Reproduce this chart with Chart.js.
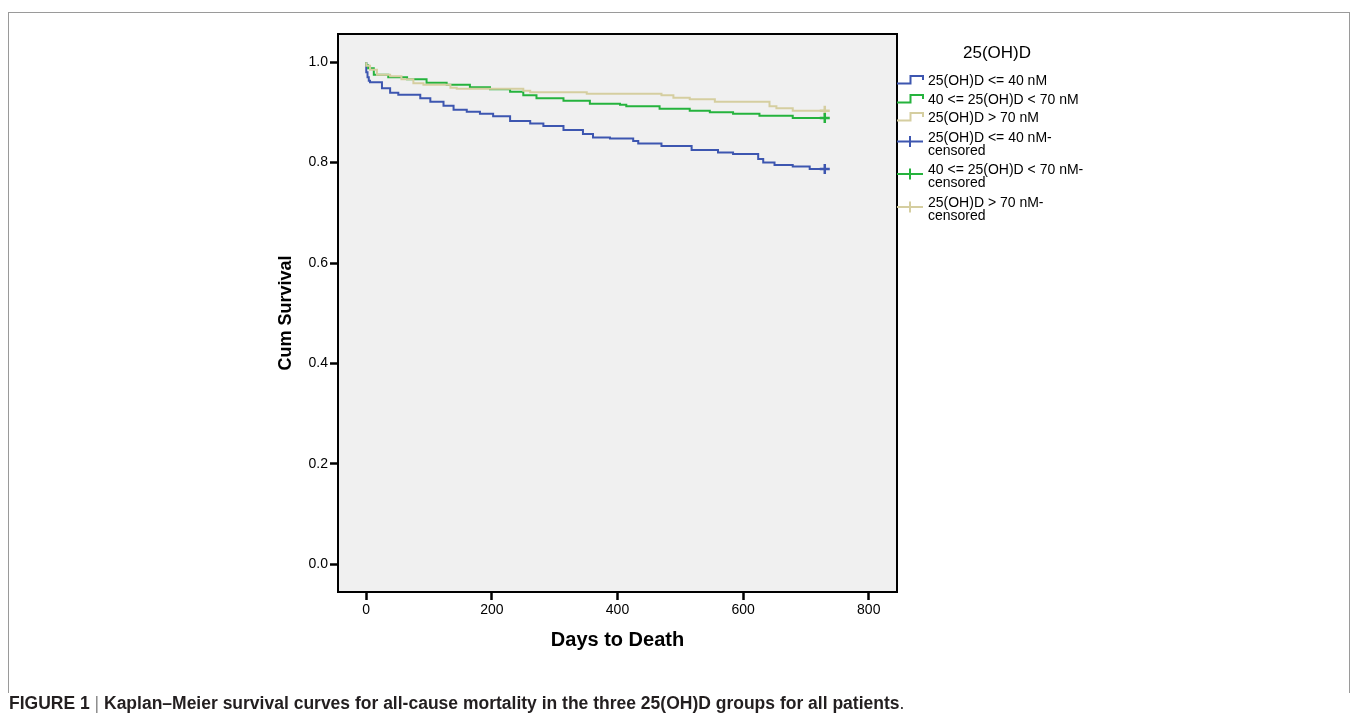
<!DOCTYPE html>
<html><head><meta charset="utf-8">
<script src="https://cdn.jsdelivr.net/npm/chart.js@4.4.1/dist/chart.umd.min.js"></script>
<style>
html,body{margin:0;padding:0;background:#fff;}
#wrap{position:relative;width:1358px;height:715px;overflow:hidden;}
#frame{position:absolute;left:8px;top:12px;width:1342px;height:681px;border:1.5px solid #9a9a9a;border-bottom:none;box-sizing:border-box;}
#c{position:absolute;left:0;top:0;}
#cap{position:absolute;left:9px;top:693px;font:bold 17.5px "Liberation Sans",Arial,sans-serif;color:#231f20;white-space:nowrap;}
#cap .bar{font-weight:normal;color:#888;}
#cap .end{font-weight:normal;}
</style></head>
<body><div id="wrap"><div id="frame"></div><canvas id="c" width="1358" height="715"></canvas>
<div id="cap">FIGURE 1 <span class="bar">|</span> Kaplan–Meier survival curves for all-cause mortality in the three 25(OH)D groups for all patients<span class="end">.</span></div></div>
<script>
const legendTitle = '25(OH)D';
const groupLabels = ['25(OH)D <= 40 nM', '40 <= 25(OH)D < 70 nM', '25(OH)D > 70 nM'];
const censoredLabels = [['25(OH)D <= 40 nM-', 'censored'], ['40 <= 25(OH)D < 70 nM-', 'censored'], ['25(OH)D > 70 nM-', 'censored']];
const xTicks = [0, 200, 400, 600, 800];
const yTicks = [0.0, 0.2, 0.4, 0.6, 0.8, 1.0];

const lowDays  = [0, 2, 4, 6, 25, 38, 51, 86, 102, 123, 139, 160, 181, 202, 229, 261, 282, 314, 345, 361, 388, 425, 433, 470, 518, 560, 584, 624, 632, 650, 679, 706, 722, 730];
const lowSurv  = [1.0, 0.980, 0.970, 0.963, 0.960, 0.948, 0.939, 0.935, 0.928, 0.921, 0.913, 0.905, 0.901, 0.897, 0.892, 0.883, 0.878, 0.873, 0.865, 0.857, 0.850, 0.848, 0.843, 0.838, 0.833, 0.825, 0.820, 0.817, 0.807, 0.800, 0.795, 0.792, 0.787, 0.787];
const midDays  = [0, 3, 12, 35, 65, 96, 128, 165, 197, 229, 250, 271, 314, 356, 404, 414, 467, 515, 547, 584, 626, 679, 730];
const midSurv  = [1.0, 0.994, 0.988, 0.975, 0.970, 0.966, 0.959, 0.955, 0.950, 0.946, 0.941, 0.934, 0.928, 0.923, 0.917, 0.915, 0.912, 0.907, 0.903, 0.900, 0.897, 0.893, 0.889];
const highDays = [0, 6, 17, 38, 56, 75, 91, 134, 144, 250, 261, 351, 470, 489, 515, 555, 642, 653, 679, 692, 730];
const highSurv = [1.0, 0.993, 0.985, 0.975, 0.972, 0.966, 0.958, 0.955, 0.949, 0.947, 0.943, 0.940, 0.937, 0.934, 0.929, 0.926, 0.921, 0.912, 0.908, 0.903, 0.903];
const censoredDay = [730, 730, 730];
const censoredSurv = [0.787, 0.889, 0.903];

const colors = ['#3d56b0', '#25b33d', '#d5cea0'];
const toPts = (xs, ys) => xs.map((x, i) => ({x: x, y: ys[i]}));
const curves = [toPts(lowDays, lowSurv), toPts(midDays, midSurv), toPts(highDays, highSurv)];

const datasets = [];
curves.forEach((pts, i) => datasets.push({
  label: groupLabels[i], data: pts, borderColor: colors[i], backgroundColor: colors[i],
  borderWidth: 2, stepped: 'after', pointRadius: 0, fill: false, order: 3 - i
}));
censoredDay.forEach((d, i) => datasets.push({
  label: censoredLabels[i].join(' '), data: [{x: d, y: censoredSurv[i]}], showLine: false,
  pointStyle: 'cross', pointRadius: 5, pointBorderWidth: 2.5, borderColor: colors[i], backgroundColor: colors[i], order: 0
}));

const FONT = '"Liberation Sans", Arial, sans-serif';

const plotBox = {
  id: 'plotBox',
  beforeDraw(chart) {
    const a = chart.chartArea, ctx = chart.ctx;
    ctx.save(); ctx.fillStyle = '#f0f0f0';
    ctx.fillRect(a.left, a.top, a.right - a.left, a.bottom - a.top);
    ctx.restore();
  },
  afterDatasetsDraw(chart) {
    const a = chart.chartArea, ctx = chart.ctx;
    ctx.save(); ctx.strokeStyle = '#000'; ctx.lineWidth = 2;
    ctx.strokeRect(a.left, a.top, a.right - a.left, a.bottom - a.top);
    ctx.restore();
  }
};

const kmLegend = {
  id: 'kmLegend',
  afterDraw(chart) {
    const ctx = chart.ctx;
    ctx.save();
    ctx.fillStyle = '#000';
    ctx.textBaseline = 'middle';
    ctx.textAlign = 'center';
    ctx.font = '17px ' + FONT;
    ctx.fillText(legendTitle, 997, 53);
    ctx.textAlign = 'left';
    ctx.font = '14px ' + FONT;
    const x0 = 897, x1 = 910.5, x2 = 923, tx = 928;
    const stepRows = [81, 100, 118];
    stepRows.forEach((y, i) => {
      ctx.strokeStyle = colors[i]; ctx.lineWidth = 2;
      ctx.beginPath();
      ctx.moveTo(x0, y + 2.5); ctx.lineTo(x1, y + 2.5); ctx.lineTo(x1, y - 5);
      ctx.lineTo(x2, y - 5); ctx.lineTo(x2, y - 1);
      ctx.stroke();
      ctx.fillText(chart.data.datasets[i].label, tx, y);
    });
    const cRows = [138, 170.5, 203.5];
    cRows.forEach((y, i) => {
      const cy = y + 3.5;
      ctx.strokeStyle = colors[i]; ctx.lineWidth = 2;
      ctx.beginPath();
      ctx.moveTo(x0, cy); ctx.lineTo(x2, cy);
      ctx.moveTo(x1 - 0.5, cy - 5.5); ctx.lineTo(x1 - 0.5, cy + 5.5);
      ctx.stroke();
      censoredLabels[i].forEach((t, k) => ctx.fillText(t, tx, y + k * 13));
    });
    ctx.restore();
  }
};

new Chart(document.getElementById('c'), {
  type: 'line',
  data: { datasets: datasets },
  options: {
    responsive: false, animation: false, events: [],
    layout: { padding: { left: 275, right: 461, top: 34, bottom: 63 } },
    plugins: { legend: { display: false }, tooltip: { enabled: false } },
    scales: {
      x: {
        type: 'linear', min: -45, max: 845,
        afterFit(s) { s.height = 60; },
        afterBuildTicks(s) { s.ticks = xTicks.map(v => ({value: v})); },
        grid: { drawOnChartArea: false, drawTicks: true, tickLength: 8, tickWidth: 2.5, tickColor: '#000' },
        border: { display: true, color: '#000', width: 2 },
        ticks: { color: '#000', font: { family: FONT, size: 14 }, padding: 2, maxRotation: 0, callback: v => String(v) },
        title: { display: true, text: 'Days to Death', color: '#000', font: { family: FONT, size: 20, weight: 'bold' }, padding: 0 }
      },
      y: {
        type: 'linear', min: -0.055, max: 1.056,
        afterFit(s) { s.width = 63; },
        afterBuildTicks(s) { s.ticks = yTicks.map(v => ({value: v})); },
        grid: { drawOnChartArea: false, drawTicks: true, tickLength: 8, tickWidth: 2.5, tickColor: '#000' },
        border: { display: true, color: '#000', width: 2 },
        ticks: { color: '#000', font: { family: FONT, size: 14 }, padding: 2, callback: v => v.toFixed(1) },
        title: { display: true, text: 'Cum Survival', color: '#000', font: { family: FONT, size: 18, weight: 'bold' }, padding: 0 }
      }
    }
  },
  plugins: [plotBox, kmLegend]
});
</script></body></html>
